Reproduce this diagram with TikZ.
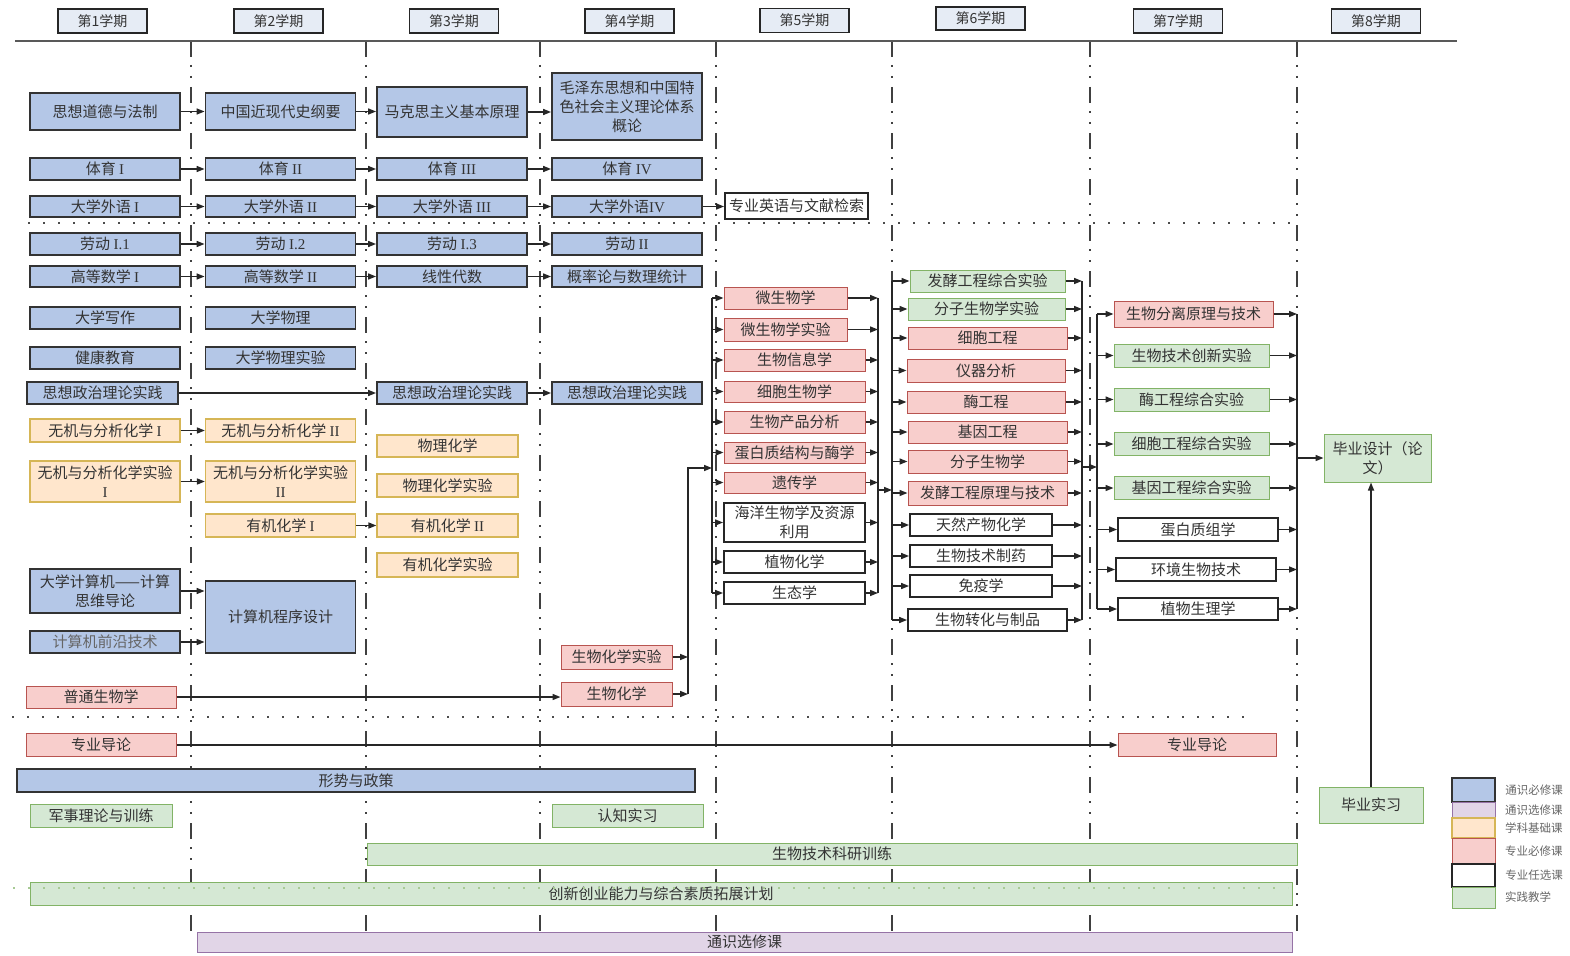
\documentclass[tikz,border=0pt]{standalone}
\usepackage{fontspec}
\setmainfont{Noto Sans CJK SC}
\newfontfamily\romanfont{Liberation Serif}
\usepackage{tikz}
\usetikzlibrary{arrows.meta, positioning}
\definecolor{corefill}{HTML}{B4C7E7}
\definecolor{electfill}{HTML}{E1D5E7}
\definecolor{electdraw}{HTML}{9673A6}
\definecolor{basefill}{HTML}{FFE6CC}
\definecolor{basedraw}{HTML}{D6B656}
\definecolor{majorfill}{HTML}{F8CECC}
\definecolor{majordraw}{HTML}{B85450}
\definecolor{pracfill}{HTML}{D5E8D4}
\definecolor{pracdraw}{HTML}{82B366}
\definecolor{headfill}{HTML}{E6ECF5}
\newcommand\coursefont{\fontsize{15pt}{19pt}\selectfont}
\newcommand\headfont{\fontsize{14pt}{16pt}\selectfont}
\newcommand\legendfont{\fontsize{11.5pt}{13pt}\selectfont}
\newcommand\romnum[1]{{\romanfont #1}}
\tikzset{
    course/.style={rectangle, draw, inner sep=0pt, align=center, font=\coursefont, text=black!80, minimum width=150pt, minimum height=22pt},
    gencore/.style={course, fill=corefill, draw=black!80, line width=1.8pt},
    genelect/.style={course, fill=electfill, draw=electdraw, line width=1pt},
    basecourse/.style={course, fill=basefill, draw=basedraw, line width=1.2pt},
    majorcore/.style={course, fill=majorfill, draw=majordraw, line width=1pt},
    majorelect/.style={course, fill=white, draw=black!85, line width=1.8pt},
    practice/.style={course, fill=pracfill, draw=pracdraw, line width=1pt},
    termhead/.style={course, fill=headfill, draw=black!85, line width=1.8pt, minimum width=89pt, minimum height=24pt, font=\headfont},
    link/.style={draw=black!85, line width=1.5pt, -{Triangle[length=8pt, width=6pt]}},
    busline/.style={draw=black!85, line width=1.5pt},
    termsep/.style={draw=black!75, line width=2pt, dash pattern=on 16pt off 8pt on 2pt off 9pt on 2pt off 9pt},
    rowsep/.style={draw=black!70, line width=2pt, dash pattern=on 2pt off 13pt},
    legendtext/.style={anchor=west, font=\legendfont, text=black!60}
}

\begin{document}
\begin{tikzpicture}[x=1pt, y=-1pt]
        \useasboundingbox (0,0) rectangle (1570,955);

        % semester separators and row separators
        \foreach \x in {191,366,540,716,892,1090,1297}
            \draw[termsep] (\x,41) -- (\x,932);
        \draw[rowsep] (28,223) -- (1293,223);
        \draw[rowsep] (12,717) -- (1250,717);
        \draw[draw=black!65, line width=2.5pt] (15,41) -- (1457,41);

        % semester heads
        \node[termhead] (t1) at (102.5,21) {第1学期};
        \node[termhead] (t2) at (278.5,21) {第2学期};
        \node[termhead] (t3) at (454,21) {第3学期};
        \node[termhead] (t4) at (629.5,21) {第4学期};
        \node[termhead] (t5) at (804.5,20.5) {第5学期};
        \node[termhead, minimum height=23pt] (t6) at (980.5,18.5) {第6学期};
        \node[termhead] (t7) at (1178,21) {第7学期};
        \node[termhead] (t8) at (1376,21) {第8学期};

        % semester 1
        \node[gencore, minimum height=37pt] (c1a) at (105,111.5) {思想道德与法制};
        \node[gencore] (c1b) at (105,169) {体育 \romnum{I}};
        \node[gencore, minimum height=21pt] (c1c) at (105,206.5) {大学外语 \romnum{I}};
        \node[gencore] (c1d) at (105,244) {劳动 \romnum{I.1}};
        \node[gencore, minimum height=21pt] (c1e) at (105,276.5) {高等数学 \romnum{I}};
        \node[gencore] (c1f) at (105,318) {大学写作};
        \node[gencore] (c1g) at (105,358) {健康教育};
        \node[gencore, minimum width=151pt] (c1h) at (102.5,393) {思想政治理论实践};
        \node[basecourse, minimum height=23pt] (c1i) at (105,430.5) {无机与分析化学 \romnum{I}};
        \node[basecourse, minimum height=41pt] (c1j) at (105,481.5) {无机与分析化学实验\\\romnum{I}};
        \node[gencore, minimum height=44pt] (c1k) at (105,591) {大学计算机——计算\\思维导论};
        \node[gencore, text=black!60] (c1l) at (105,642) {计算机前沿技术};
        \node[majorcore] (c1m) at (101,697) {普通生物学};

        % semester 2
        \node[gencore, minimum height=37pt] (c2a) at (280.5,111.5) {中国近现代史纲要};
        \node[gencore] (c2b) at (280.5,169) {体育 \romnum{II}};
        \node[gencore, minimum height=21pt] (c2c) at (280.5,206.5) {大学外语 \romnum{II}};
        \node[gencore] (c2d) at (280.5,244) {劳动 \romnum{I.2}};
        \node[gencore, minimum height=21pt] (c2e) at (280.5,276.5) {高等数学 \romnum{II}};
        \node[gencore] (c2f) at (280.5,318) {大学物理};
        \node[gencore] (c2g) at (280.5,358) {大学物理实验};
        \node[basecourse, minimum height=23pt] (c2i) at (280.5,430.5) {无机与分析化学 \romnum{II}};
        \node[basecourse, minimum height=41pt] (c2j) at (280.5,481.5) {无机与分析化学实验\\\romnum{II}};
        \node[basecourse, minimum height=23pt] (c2k) at (280.5,525.5) {有机化学 \romnum{I}};
        \node[gencore, minimum height=72pt] (c2l) at (280.5,617) {计算机程序设计};

        % semester 3
        \node[gencore, minimum height=50pt] (c3a) at (452,112) {马克思主义基本原理};
        \node[gencore] (c3b) at (452,169) {体育 \romnum{III}};
        \node[gencore, minimum height=21pt] (c3c) at (452,206.5) {大学外语 \romnum{III}};
        \node[gencore] (c3d) at (452,244) {劳动 \romnum{I.3}};
        \node[gencore, minimum height=21pt] (c3e) at (452,276.5) {线性代数};
        \node[gencore] (c3h) at (452,393) {思想政治理论实践};
        \node[basecourse, minimum width=141pt] (c3i) at (447.5,446) {物理化学};
        \node[basecourse, minimum width=141pt, minimum height=23pt] (c3j) at (447.5,485.5) {物理化学实验};
        \node[basecourse, minimum width=141pt, minimum height=23pt] (c3k) at (447.5,525.5) {有机化学 \romnum{II}};
        \node[basecourse, minimum width=141pt, minimum height=24pt] (c3l) at (447.5,565) {有机化学实验};

        % semester 4
        \node[gencore, minimum height=67pt] (c4a) at (627,106.5) {毛泽东思想和中国特\\色社会主义理论体系\\概论};
        \node[gencore] (c4b) at (627,169) {体育 \romnum{IV}};
        \node[gencore, minimum height=21pt] (c4c) at (627,206.5) {大学外语\romnum{IV}};
        \node[gencore] (c4d) at (627,244) {劳动 \romnum{II}};
        \node[gencore, minimum height=21pt] (c4e) at (627,276.5) {概率论与数理统计};
        \node[gencore] (c4h) at (627,393) {思想政治理论实践};
        \node[majorcore, minimum width=111pt, minimum height=24pt] (c4m) at (616.5,657) {生物化学实验};
        \node[majorcore, minimum width=111pt, minimum height=24pt] (c4n) at (616.5,694) {生物化学};
        \node[majorelect, minimum width=143pt, minimum height=26pt] (c4x) at (796.5,206) {专业英语与文献检索};

        % semester 5
        \node[majorcore, minimum width=123pt] (c5a) at (785.5,298) {微生物学};
        \node[majorcore, minimum width=123pt, minimum height=23pt] (c5b) at (785.5,329.5) {微生物学实验};
        \node[majorcore, minimum width=141pt] (c5c) at (794.5,360) {生物信息学};
        \node[majorcore, minimum width=141pt, minimum height=21pt] (c5d) at (794.5,391.5) {细胞生物学};
        \node[majorcore, minimum width=141pt] (c5e) at (794.5,422) {生物产品分析};
        \node[majorcore, minimum width=141pt, minimum height=21pt] (c5f) at (794.5,452.5) {蛋白质结构与酶学};
        \node[majorcore, minimum width=141pt, minimum height=21pt] (c5g) at (794.5,482.5) {遗传学};
        \node[majorelect, minimum width=141pt, minimum height=39pt] (c5h) at (794.5,522.5) {海洋生物学及资源\\利用};
        \node[majorelect, minimum width=141pt] (c5i) at (794.5,562) {植物化学};
        \node[majorelect, minimum width=141pt] (c5j) at (794.5,593) {生态学};

        % semester 6
        \node[practice, minimum width=155pt] (c6a) at (987.5,281) {发酵工程综合实验};
        \node[practice, minimum width=157pt] (c6b) at (986.5,309) {分子生物学实验};
        \node[majorcore, minimum width=159pt] (c6c) at (987.5,338) {细胞工程};
        \node[majorcore, minimum width=158pt, minimum height=23pt] (c6d) at (986,370.5) {仪器分析};
        \node[majorcore, minimum width=158pt] (c6e) at (986,402) {酶工程};
        \node[majorcore, minimum width=159pt] (c6f) at (987.5,432) {基因工程};
        \node[majorcore, minimum width=159pt, minimum height=23pt] (c6g) at (987.5,461.5) {分子生物学};
        \node[majorcore, minimum width=159pt, minimum height=24pt] (c6h) at (987.5,493) {发酵工程原理与技术};
        \node[majorelect, minimum width=142pt] (c6i) at (981,525) {天然产物化学};
        \node[majorelect, minimum width=142pt] (c6j) at (981,556) {生物技术制药};
        \node[majorelect, minimum width=142pt] (c6k) at (981,586) {免疫学};
        \node[majorelect, minimum width=159pt] (c6l) at (987.5,620) {生物转化与制品};

        % semester 7
        \node[majorcore, minimum width=159pt, minimum height=26pt] (c7a) at (1193.5,314) {生物分离原理与技术};
        \node[practice, minimum width=155pt, minimum height=23pt] (c7b) at (1191.5,355.5) {生物技术创新实验};
        \node[practice, minimum width=155pt, minimum height=23pt] (c7c) at (1191.5,399.5) {酶工程综合实验};
        \node[practice, minimum width=155pt, minimum height=23pt] (c7d) at (1191.5,444) {细胞工程综合实验};
        \node[practice, minimum width=155pt, minimum height=23pt] (c7e) at (1191.5,488) {基因工程综合实验};
        \node[majorelect, minimum width=160pt, minimum height=23pt] (c7f) at (1198,529.5) {蛋白质组学};
        \node[majorelect, minimum width=160pt, minimum height=23pt] (c7g) at (1196,569.5) {环境生物技术};
        \node[majorelect, minimum width=160pt] (c7h) at (1198,609) {植物生理学};

        % semester 8
        \node[practice, minimum width=107pt, minimum height=48pt] (c8a) at (1377.5,458) {毕业设计（论\\文）};
        \node[practice, minimum width=104pt, minimum height=36pt] (c8b) at (1371,805) {毕业实习};

        % courses across semesters
        \node[majorcore, minimum height=23pt] (zy1) at (101,745) {专业导论};
        \node[majorcore, minimum width=158pt, minimum height=23pt] (zy2) at (1197,745) {专业导论};
        \node[gencore, minimum width=678pt, minimum height=23pt] (xs) at (356,780.5) {形势与政策};
        \node[practice, minimum width=142pt, minimum height=23pt] (js) at (101,815.5) {军事理论与训练};
        \node[practice, minimum width=151pt, minimum height=23pt] (rz) at (627.5,815.5) {认知实习};
        \node[practice, minimum width=930pt] (ky) at (832,854) {生物技术科研训练};
        \node[practice, minimum width=1262pt, minimum height=23pt] (cx) at (661,893.5) {创新创业能力与综合素质拓展计划};
        \draw[rowsep, draw=pracdraw!70, line width=1.5pt] (13,888) -- (1288,888);
        \node[genelect, minimum width=1095pt, minimum height=20pt] (tx) at (744.5,942) {通识选修课};

        % legend
        \node[gencore, minimum width=43pt, minimum height=24pt] (lg1) at (1473.5,790) {};
        \node[genelect, minimum width=43pt, minimum height=16pt] (lg2) at (1473.5,810) {};
        \node[basecourse, minimum width=43pt, minimum height=20pt] (lg3) at (1473.5,828) {};
        \node[majorcore, minimum width=43pt, minimum height=26pt] (lg4) at (1473.5,851) {};
        \node[majorelect, minimum width=43pt, minimum height=23pt] (lg5) at (1473.5,875.5) {};
        \node[practice, minimum width=43pt, minimum height=21pt] (lg6) at (1473.5,897.5) {};
        \node[legendtext, right=6pt of lg1] (lt1) {通识必修课};
        \node[legendtext, right=6pt of lg2] (lt2) {通识选修课};
        \node[legendtext, right=6pt of lg3] (lt3) {学科基础课};
        \node[legendtext, right=6pt of lg4] (lt4) {专业必修课};
        \node[legendtext, right=6pt of lg5] (lt5) {专业任选课};
        \node[legendtext, right=6pt of lg6] (lt6) {实践教学};

        % arrows between semesters
        \foreach \a/\b in {c1a/c2a, c2a/c3a, c3a/c4a, c1b/c2b, c2b/c3b, c3b/c4b, c1c/c2c, c2c/c3c, c3c/c4c, c4c/c4x,
                c1d/c2d, c2d/c3d, c3d/c4d, c1e/c2e, c2e/c3e, c3e/c4e, c1h/c3h, c3h/c4h, c1i/c2i, c1j/c2j,
                c2k/c3k, c1k/c2l, c1l/c2l, c1m/c4n, zy1/zy2}
            \draw[link] (\a.east) -- (\a.east -| \b.west);

        % buses
        \coordinate (b4) at (688,0);
        \coordinate (b5l) at (712,0);
        \coordinate (b5r) at (878,0);
        \coordinate (b6l) at (892,0);
        \coordinate (b6r) at (1082,0);
        \coordinate (b7l) at (1097,0);
        \coordinate (b7r) at (1297,0);
        \coordinate (j5) at (712,468);
        \coordinate (j6) at (892,490);
        \coordinate (j7) at (1097,467);

        \draw[link] (c4m.east) -- (c4m.east -| b4);
        \draw[link] (c4n.east) -- (c4n.east -| b4);
        \draw[link] (c4n.east -| b4) |- (j5);

        \draw[busline] (b5l |- c5a.west) -- (b5l |- c5j.west);
        \draw[busline] (b5r |- c5a.east) -- (b5r |- c5j.east);
        \foreach \n in {c5a,c5b,c5c,c5d,c5e,c5f,c5g,c5h,c5i,c5j} {
            \draw[link] (b5l |- \n.west) -- (\n.west);
            \draw[link] (\n.east) -- (b5r |- \n.east);
        }
        \draw[link] (b5r |- j6) -- (j6);

        \draw[busline] (b6l |- c6a.west) -- (b6l |- c6l.west);
        \draw[busline] (b6r |- c6a.east) -- (b6r |- c6l.east);
        \foreach \n in {c6a,c6b,c6c,c6d,c6e,c6f,c6g,c6h,c6i,c6j,c6k,c6l} {
            \draw[link] (b6l |- \n.west) -- (\n.west);
            \draw[link] (\n.east) -- (b6r |- \n.east);
        }
        \draw[link] (b6r |- j7) -- (j7);

        \draw[busline] (b7l |- c7a.west) -- (b7l |- c7h.west);
        \draw[busline] (b7r |- c7a.east) -- (b7r |- c7h.east);
        \foreach \n in {c7a,c7b,c7c,c7d,c7e,c7f,c7g,c7h} {
            \draw[link] (b7l |- \n.west) -- (\n.west);
            \draw[link] (\n.east) -- (b7r |- \n.east);
        }
        \draw[link] (b7r |- c8a.west) -- (c8a.west);
        \draw[link] (c8b.north) -- (c8b.north |- c8a.south);
    \end{tikzpicture}
\end{document}
